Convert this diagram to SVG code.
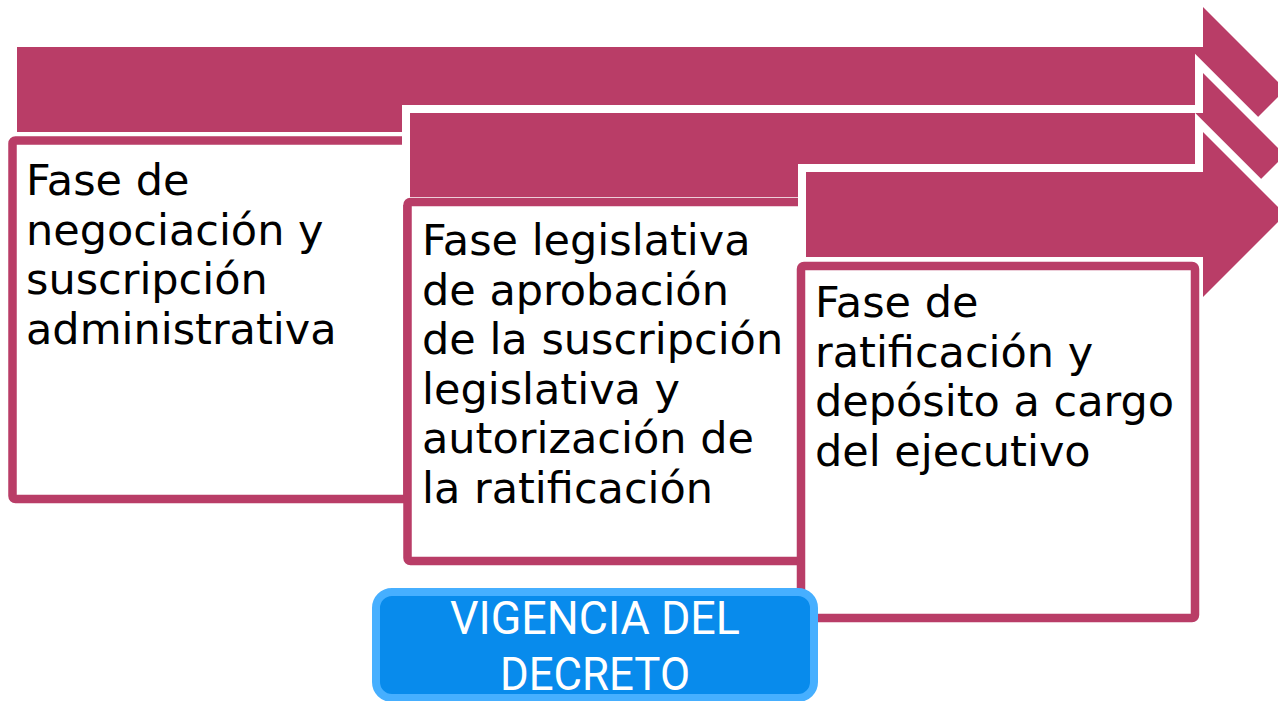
<svg xmlns="http://www.w3.org/2000/svg" width="1278" height="701" viewBox="0 0 1278 701">
<style>
.arrow{fill:#B93D67;stroke:#FFFFFF;stroke-width:16;stroke-linejoin:miter;paint-order:stroke}
.box{fill:#FFFFFF;stroke:#B93D67;stroke-width:8.5}
.t{font-family:"DejaVu Sans","Verdana",sans-serif;font-size:43px;fill:#000000}
.b{font-family:Roboto,"Open Sans",sans-serif;font-size:47px;fill:#FFFFFF;text-anchor:middle}
</style>
<rect width="1278" height="701" fill="#FFFFFF"/>
<g id="fase1">
<path class="arrow" d="M17,47 H1203 V7 L1285.5,89.5 L1203,172 V132 H17 Z"/>
<rect class="box" x="12.5" y="140.5" width="395" height="358.5" rx="3"/>
<text class="t"><tspan x="26" y="195">Fase de</tspan><tspan x="26" y="244.5">negociación y</tspan><tspan x="26" y="294">suscripción</tspan><tspan x="26" y="343.5">administrativa</tspan></text>
</g>
<g id="fase2">
<path class="arrow" d="M410,113 H1203 V73 L1285,155 L1203,237 V197 H410 Z"/>
<rect class="box" x="407.5" y="202" width="395" height="359" rx="3"/>
<text class="t"><tspan x="422" y="255">Fase legislativa</tspan><tspan x="422" y="304.5">de aprobación</tspan><tspan x="422" y="354">de la suscripción</tspan><tspan x="422" y="403.5">legislativa y</tspan><tspan x="422" y="453">autorización de</tspan><tspan x="422" y="502.5">la ratificación</tspan></text>
</g>
<g id="fase3">
<path class="arrow" d="M806,172 H1203 V132 L1285.5,214.5 L1203,297 V257 H806 Z"/>
<rect class="box" x="801" y="266" width="394" height="352" rx="3"/>
<text class="t"><tspan x="815" y="317">Fase de</tspan><tspan x="815" y="366.5">ratificación y</tspan><tspan x="815" y="416">depósito a cargo</tspan><tspan x="815" y="465.5">del ejecutivo</tspan></text>
</g>
<g id="vigencia">
<rect x="376" y="592" width="438" height="106" rx="16" fill="#088BEC" stroke="#46AFFF" stroke-width="8"/>
<text class="b" x="595" y="634" textLength="290" lengthAdjust="spacingAndGlyphs">VIGENCIA DEL</text>
<text class="b" x="595" y="690" textLength="190" lengthAdjust="spacingAndGlyphs">DECRETO</text>
</g>
<g id="connectors"/>
</svg>
